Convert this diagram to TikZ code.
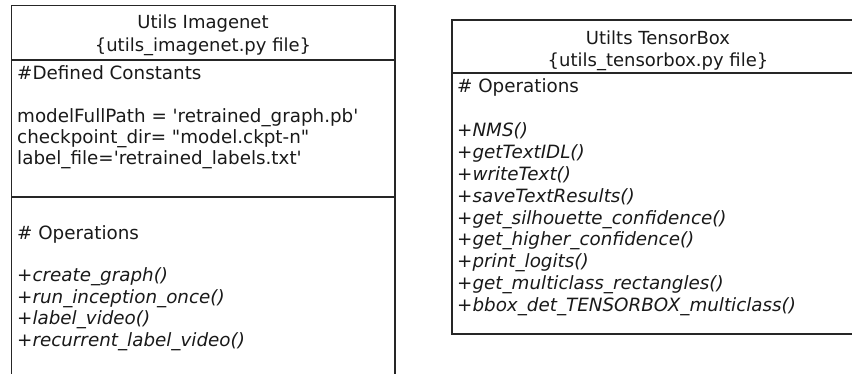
\documentclass[tikz,border=0pt]{standalone}
\usepackage{fontspec}
\setmainfont{DejaVu Sans}
\newcommand{\sq}{\textquotesingle}
\newcommand{\dq}{\textquotedbl}
\begin{document}
\begin{tikzpicture}[x=1pt,y=-1pt,
  umlbox/.style={draw=black!85,line width=1.4pt},
  umlrule/.style={draw=black!85,line width=1.3pt},
  txt/.style={inner sep=0pt,anchor=base west,font=\fontsize{18.3}{21}\selectfont,text=black!90},
  optxt/.style={txt,font=\fontsize{18.3}{21}\selectfont\itshape},
  ttl/.style={inner sep=0pt,anchor=base,font=\fontsize{18}{21}\selectfont,text=black!90}]
\useasboundingbox (0,0) rectangle (852,374);
\clip (0,0) rectangle (852,374);

% ---- class: Utils Imagenet ----
\draw[umlbox] (11.5,5.5) rectangle (395,390);
\draw[umlrule] (11.5,60) -- (395,60);
\draw[umlrule] (11.5,197) -- (395,197);
\node[ttl] (imgTitle) at (203,29) {Utils Imagenet};
\node[ttl] (imgFile) at (203,52) {\{utils\_imagenet.py file\}};
\node[txt] (imgConst) at (17,80) {\#Defined Constants};
\node[txt] (imgC1) at (17,123) {modelFullPath = \sq retrained\_graph.pb\sq};
\node[txt] (imgC2) at (17,144) {checkpoint\_dir= \dq model.ckpt-n\dq};
\node[txt] (imgC3) at (17,165) {label\_file=\sq retrained\_labels.txt\sq};
\node[txt] (imgOps) at (17,240) {\# Operations};
\foreach \t [count=\i] in {create\_graph(),run\_inception\_once(),label\_video(),recurrent\_label\_video()}
  \node[optxt] (imgOp\i) at (17,{281.5+21.6*(\i-1)}) {+\t};

% ---- class: Utilts TensorBox ----
\draw[umlbox] (452,20) rectangle (866,334);
\draw[umlrule] (452,73) -- (866,73);
\node[ttl] (tbTitle) at (658,45) {Utilts TensorBox};
\node[ttl] (tbFile) at (658,67) {\{utils\_tensorbox.py file\}};
\node[txt] (tbOps) at (457,93) {\# Operations};
\foreach \t [count=\i] in {NMS(),getTextIDL(),writeText(),saveTextResults(),get\_silhouette\_confidence(),get\_higher\_confidence(),print\_logits(),get\_multiclass\_rectangles(),bbox\_det\_TENSORBOX\_multiclass()}
  \node[optxt] (tbOp\i) at (457,{137+21.8*(\i-1)}) {+\t};
\end{tikzpicture}
\end{document}
